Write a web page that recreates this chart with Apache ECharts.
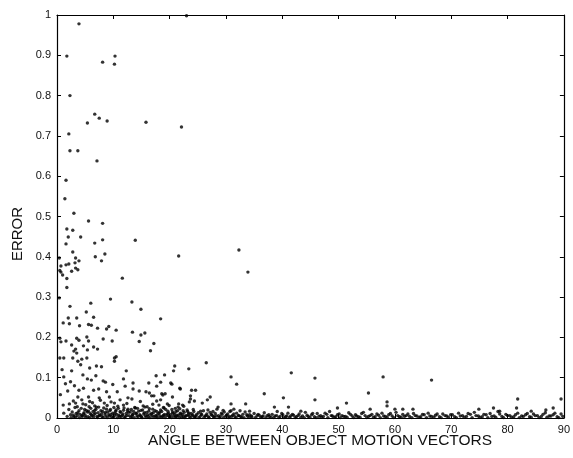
<!DOCTYPE html>
<html>
<head>
<meta charset="utf-8">
<script src="https://cdn.jsdelivr.net/npm/echarts@6/dist/echarts.min.js"></script>
<style>
  html, body { margin: 0; padding: 0; background: #fff; }
  #chart { width: 573px; height: 458px; }
</style>
</head>
<body>
<div id="chart"></div>
<script>
// [angle, error] pairs
const highPoints = [
  [3.9, 0.978], [1.75, 0.898], [8.1, 0.883], [10.3, 0.898], [10.2, 0.878], [23.0, 0.998],
  [2.3, 0.80], [6.7, 0.754], [7.5, 0.744], [5.4, 0.732], [8.9, 0.737], [15.8, 0.734],
  [22.1, 0.722], [2.1, 0.705], [2.3, 0.663], [3.7, 0.663], [7.1, 0.638], [1.6, 0.59],
  [1.4, 0.544], [3.0, 0.508], [5.6, 0.489], [8.1, 0.483], [1.75, 0.469], [2.8, 0.466],
  [2.0, 0.449], [4.2, 0.449], [1.6, 0.432], [6.7, 0.434], [8.1, 0.442], [13.9, 0.441],
  [2.8, 0.412], [6.8, 0.40], [8.5, 0.407], [0.4, 0.397], [3.3, 0.397], [7.9, 0.39],
  [21.6, 0.402], [32.3, 0.417], [33.9, 0.362], [11.6, 0.347]
];

const midPoints = [
  [0.7, 0.377], [1.6, 0.380], [2.1, 0.382], [3.2, 0.385], [3.9, 0.39], [3.3, 0.372],
  [3.7, 0.368], [0.7, 0.362], [1.0, 0.355], [2.6, 0.364], [0.5, 0.366], [1.75, 0.346],
  [1.75, 0.324], [0.4, 0.298], [9.5, 0.295], [13.3, 0.288], [6.0, 0.285], [14.9, 0.27],
  [2.3, 0.277], [5.2, 0.263], [18.4, 0.246], [6.5, 0.25], [2.0, 0.248], [3.5, 0.248],
  [1.1, 0.236], [2.2, 0.234], [4.0, 0.229], [5.6, 0.232], [6.1, 0.23], [7.2, 0.223],
  [8.8, 0.221], [9.2, 0.227], [10.5, 0.218], [13.4, 0.213], [15.6, 0.211], [14.9, 0.206],
  [14.6, 0.19], [17.2, 0.185], [16.6, 0.167], [0.5, 0.198], [0.7, 0.189], [1.6, 0.191],
  [3.5, 0.198], [3.9, 0.193], [5.3, 0.201], [5.6, 0.191], [8.2, 0.196], [9.8, 0.191],
  [2.6, 0.181], [3.3, 0.171], [4.7, 0.179], [5.4, 0.169], [3.0, 0.166], [3.5, 0.161],
  [7.2, 0.171], [6.5, 0.176], [0.5, 0.149], [1.2, 0.149], [2.8, 0.149], [4.4, 0.146],
  [5.3, 0.149], [3.7, 0.141], [4.2, 0.132], [10.2, 0.149], [10.2, 0.141], [10.5, 0.152],
  [20.9, 0.129], [20.7, 0.117], [23.4, 0.122], [26.5, 0.137], [7.0, 0.129], [7.9, 0.127],
  [5.8, 0.124], [2.6, 0.117], [4.6, 0.107], [1.2, 0.102], [17.6, 0.105], [19.1, 0.107],
  [12.3, 0.117], [30.9, 0.102], [41.6, 0.112], [45.8, 0.099], [57.9, 0.102], [66.5, 0.094]
];

const lowPoints = [
  [5.4, 0.097], [6.1, 0.094], [8.2, 0.092], [8.6, 0.089], [11.8, 0.097], [13.5, 0.087],
  [12.1, 0.079], [16.3, 0.087], [20.4, 0.084], [21.9, 0.072], [13.5, 0.072], [14.6, 0.067],
  [15.8, 0.065], [16.8, 0.055], [20.5, 0.052], [18.8, 0.057], [1.9, 0.067], [3.9, 0.069],
  [4.7, 0.074], [6.5, 0.069], [7.4, 0.072], [8.8, 0.065], [10.7, 0.065], [3.7, 0.052],
  [5.6, 0.052], [7.5, 0.05], [9.3, 0.052], [11.2, 0.045], [12.6, 0.05], [13.3, 0.047],
  [1.1, 0.032], [3.3, 0.037], [4.6, 0.035], [6.7, 0.03], [8.4, 0.037], [10.2, 0.037],
  [11.8, 0.032], [15.3, 0.03], [18.1, 0.032], [19.6, 0.035], [21.6, 0.035], [23.5, 0.04],
  [17.7, 0.079], [18.4, 0.089], [20.2, 0.087], [21.8, 0.074], [31.9, 0.084], [36.8, 0.06],
  [55.3, 0.062], [40.2, 0.05], [45.8, 0.045], [23.9, 0.069], [24.6, 0.069], [23.7, 0.055],
  [23.7, 0.047], [27.2, 0.052], [26.7, 0.045], [24.4, 0.042], [25.8, 0.037], [30.9, 0.035],
  [33.5, 0.035], [38.6, 0.027], [41.1, 0.027], [51.4, 0.037], [49.8, 0.025], [43.3, 0.017],
  [34.2, 0.017], [31.4, 0.022], [28.6, 0.027], [55.6, 0.022], [58.6, 0.04], [58.6, 0.03],
  [60.0, 0.022], [61.4, 0.022], [63.2, 0.022], [74.9, 0.022], [77.5, 0.025], [78.6, 0.017],
  [81.8, 0.047], [81.6, 0.025], [86.8, 0.02], [88.1, 0.025], [89.5, 0.047], [84.2, 0.017],
  [17.2, 0.055], [17.7, 0.042], [18.6, 0.06], [19.2, 0.06], [18.4, 0.045], [16.4, 0.062],
  [22.3, 0.032], [21.5, 0.027], [2.2, 0.035], [2.9, 0.042], [3.6, 0.028], [4.4, 0.045],
  [5.1, 0.033], [5.8, 0.041], [6.3, 0.038], [7.0, 0.027], [7.7, 0.044], [8.9, 0.031],
  [9.6, 0.040], [10.8, 0.029], [12.4, 0.036], [13.9, 0.025], [14.8, 0.041], [16.0, 0.028],
  [17.0, 0.034], [18.9, 0.026], [19.9, 0.031], [21.0, 0.024], [22.5, 0.029], [0.6, 0.058],
  [1.5, 0.085], [0.9, 0.12], [2.4, 0.09], [3.1, 0.08], [6.9, 0.105], [9.9, 0.083],
  [4.9, 0.021], [5.6, 0.017], [6.0, 0.024], [6.7, 0.019], [7.4, 0.027], [8.1, 0.016],
  [8.8, 0.022], [9.4, 0.018], [10.1, 0.026], [10.5, 0.020], [11.2, 0.016], [11.9, 0.025],
  [12.5, 0.018], [13.2, 0.021], [13.6, 0.016], [14.3, 0.024], [14.9, 0.019], [15.6, 0.027],
  [16.3, 0.017], [17.0, 0.022], [17.7, 0.016], [18.4, 0.020], [19.0, 0.025], [19.7, 0.017],
  [20.4, 0.021], [21.1, 0.016], [21.8, 0.023], [22.4, 0.018], [23.2, 0.016], [24.2, 0.021],
  [25.5, 0.017], [26.8, 0.020], [27.7, 0.016], [29.5, 0.019], [30.7, 0.016], [32.5, 0.018]
];

const bandPoints = [
  [1.2, 0.012], [1.8, 0.004], [2.1, 0.021], [2.4, 0.008], [2.7, 0.015], [3.0, 0.003],
  [3.2, 0.026], [3.4, 0.011], [3.6, 0.006], [3.9, 0.018], [4.1, 0.009], [4.3, 0.024],
  [4.5, 0.004], [4.8, 0.013], [5.0, 0.007], [5.2, 0.019], [5.5, 0.003], [5.7, 0.028],
  [5.9, 0.011], [6.2, 0.005], [6.4, 0.016], [6.6, 0.009], [6.9, 0.022], [7.1, 0.004],
  [7.3, 0.013], [7.6, 0.007], [7.8, 0.018], [8.0, 0.003], [8.3, 0.025], [8.5, 0.010],
  [8.7, 0.005], [9.0, 0.015], [9.2, 0.008], [9.5, 0.021], [9.7, 0.003], [9.9, 0.012],
  [10.2, 0.006], [10.4, 0.017], [10.6, 0.009], [10.9, 0.024], [11.1, 0.004], [11.3, 0.014],
  [11.6, 0.007], [11.8, 0.019], [12.1, 0.003], [12.3, 0.011], [12.6, 0.022], [12.8, 0.006],
  [13.0, 0.015], [13.3, 0.004], [13.5, 0.009], [13.8, 0.026], [14.0, 0.012], [14.2, 0.005],
  [14.5, 0.017], [14.7, 0.008], [15.0, 0.003], [15.2, 0.020], [15.4, 0.010], [15.7, 0.006],
  [15.9, 0.014], [16.2, 0.004], [16.4, 0.023], [16.6, 0.009], [16.9, 0.005], [17.1, 0.013],
  [17.4, 0.018], [17.6, 0.003], [17.8, 0.008], [18.1, 0.011], [18.3, 0.005], [18.6, 0.016],
  [18.8, 0.004], [19.1, 0.009], [19.3, 0.021], [19.5, 0.006], [19.8, 0.012], [20.0, 0.003],
  [20.2, 0.008], [20.5, 0.015], [20.7, 0.005], [20.9, 0.010], [21.2, 0.004], [21.4, 0.018],
  [21.6, 0.007], [21.9, 0.012], [22.1, 0.003], [22.3, 0.009], [22.6, 0.014], [22.8, 0.005],
  [23.1, 0.020], [23.3, 0.008], [23.5, 0.004], [23.8, 0.011], [24.0, 0.006], [24.3, 0.016],
  [24.5, 0.003], [24.8, 0.009], [25.1, 0.013], [25.4, 0.004], [25.7, 0.008], [26.0, 0.018],
  [26.3, 0.005], [26.6, 0.010], [26.9, 0.003], [27.2, 0.014], [27.5, 0.007], [27.8, 0.004],
  [28.1, 0.011], [28.4, 0.022], [28.7, 0.006], [29.0, 0.003], [29.3, 0.009], [29.7, 0.015],
  [30.0, 0.005], [30.3, 0.010], [30.6, 0.004], [30.9, 0.018], [31.2, 0.007], [31.6, 0.003],
  [31.9, 0.012], [32.2, 0.006], [32.6, 0.004], [33.0, 0.009], [33.4, 0.015], [33.8, 0.005],
  [34.2, 0.008], [34.6, 0.003], [35.0, 0.011], [35.5, 0.005], [35.9, 0.007], [36.4, 0.003],
  [36.8, 0.013], [37.3, 0.006], [37.7, 0.004], [38.2, 0.009], [38.7, 0.005], [39.1, 0.016],
  [39.6, 0.004], [40.1, 0.008], [40.6, 0.003], [41.0, 0.012], [41.5, 0.005], [42.0, 0.007],
  [42.5, 0.003], [43.0, 0.010], [43.6, 0.005], [44.1, 0.014], [44.6, 0.004], [45.2, 0.008],
  [45.7, 0.003], [46.2, 0.011], [46.8, 0.006], [47.3, 0.004], [47.9, 0.009], [48.4, 0.016],
  [48.9, 0.005], [49.5, 0.003], [50.1, 0.010], [50.6, 0.006], [51.2, 0.004], [51.8, 0.013],
  [52.4, 0.005], [53.0, 0.008], [53.5, 0.003], [54.1, 0.011], [54.7, 0.006], [55.3, 0.004],
  [55.9, 0.009], [56.5, 0.003], [57.1, 0.007], [57.7, 0.012], [58.3, 0.004], [58.9, 0.008],
  [59.5, 0.005], [60.2, 0.014], [60.8, 0.003], [61.4, 0.009], [62.0, 0.006], [62.6, 0.004],
  [63.3, 0.011], [63.9, 0.005], [64.6, 0.003], [65.2, 0.008], [65.9, 0.012], [66.5, 0.004],
  [67.2, 0.007], [67.9, 0.003], [68.5, 0.010], [69.2, 0.005], [69.9, 0.008], [70.6, 0.003],
  [71.3, 0.012], [72.0, 0.006], [72.7, 0.004], [73.4, 0.009], [74.1, 0.014], [74.8, 0.005],
  [75.5, 0.003], [76.2, 0.008], [76.9, 0.011], [77.6, 0.005], [78.3, 0.016], [79.0, 0.004],
  [79.7, 0.009], [80.4, 0.006], [81.1, 0.003], [81.8, 0.012], [82.5, 0.005], [83.2, 0.008],
  [83.9, 0.003], [84.6, 0.010], [85.3, 0.006], [86.0, 0.004], [86.7, 0.013], [87.4, 0.005],
  [88.1, 0.008], [88.8, 0.003], [89.5, 0.010]
];

// the near-zero floor of the cloud, almost a solid strip
const floorPoints = [
  [2.5, 0.001], [2.9, 0.007], [3.3, 0.002], [3.7, 0.013], [4.0, 0.001], [4.4, 0.006],
  [4.7, 0.010], [5.1, 0.002], [5.4, 0.015], [5.8, 0.001], [6.1, 0.008], [6.5, 0.003],
  [6.8, 0.012], [7.2, 0.001], [7.5, 0.006], [7.9, 0.010], [8.2, 0.002], [8.6, 0.014],
  [8.9, 0.001], [9.3, 0.005], [9.6, 0.009], [10.0, 0.002], [10.3, 0.012], [10.7, 0.001],
  [11.0, 0.007], [11.4, 0.003], [11.7, 0.010], [12.0, 0.001], [12.4, 0.006], [12.7, 0.014],
  [13.1, 0.002], [13.4, 0.008], [13.7, 0.001], [14.1, 0.011], [14.4, 0.003], [14.8, 0.006],
  [15.1, 0.001], [15.5, 0.013], [15.8, 0.002], [16.1, 0.008], [16.5, 0.001], [16.8, 0.011],
  [17.2, 0.003], [17.5, 0.006], [17.9, 0.001], [18.2, 0.014], [18.5, 0.002], [18.9, 0.007],
  [19.2, 0.001], [19.6, 0.010], [19.9, 0.004], [20.3, 0.001], [20.6, 0.012], [21.0, 0.002],
  [21.3, 0.007], [21.7, 0.001], [22.0, 0.010], [22.4, 0.003], [22.7, 0.001], [23.0, 0.006],
  [23.4, 0.012], [23.7, 0.001], [24.1, 0.008], [24.4, 0.002], [24.7, 0.005], [25.2, 0.001],
  [25.6, 0.010], [26.1, 0.002], [26.5, 0.006], [27.0, 0.001], [27.4, 0.009], [27.9, 0.002],
  [28.3, 0.005], [28.8, 0.001], [29.2, 0.012], [29.6, 0.002], [30.1, 0.007], [30.5, 0.001],
  [31.0, 0.004], [31.4, 0.010], [31.8, 0.001], [32.3, 0.006], [32.8, 0.002], [33.2, 0.001],
  [33.7, 0.008], [34.1, 0.002], [34.5, 0.005], [35.2, 0.001], [35.7, 0.009], [36.2, 0.002],
  [36.6, 0.005], [37.1, 0.001], [37.6, 0.008], [38.0, 0.002], [38.5, 0.001], [39.0, 0.006],
  [39.4, 0.001], [39.9, 0.011], [40.3, 0.001], [40.8, 0.005], [41.3, 0.002], [41.8, 0.009],
  [42.3, 0.001], [42.8, 0.006], [43.3, 0.002], [43.9, 0.001], [44.4, 0.007], [44.9, 0.002],
  [45.4, 0.011], [46.0, 0.001], [46.5, 0.004], [47.0, 0.002], [47.6, 0.012], [48.1, 0.001],
  [48.7, 0.006], [49.2, 0.002], [49.8, 0.008], [50.3, 0.001], [50.9, 0.004], [51.5, 0.002],
  [52.1, 0.009], [52.7, 0.001], [53.2, 0.005], [53.8, 0.002], [54.4, 0.014], [55.0, 0.001],
  [55.6, 0.006], [56.2, 0.002], [56.8, 0.010], [57.4, 0.001], [58.0, 0.005], [58.6, 0.002],
  [59.2, 0.011], [59.8, 0.001], [60.5, 0.006], [61.1, 0.002], [61.7, 0.004], [62.3, 0.010],
  [63.0, 0.001], [63.6, 0.006], [64.3, 0.002], [64.9, 0.009], [65.6, 0.001], [66.2, 0.005],
  [66.9, 0.002], [67.5, 0.010], [68.2, 0.001], [68.9, 0.006], [69.5, 0.002], [70.2, 0.008],
  [70.9, 0.001], [71.6, 0.005], [72.3, 0.002], [73.0, 0.011], [73.7, 0.001], [74.4, 0.006],
  [75.1, 0.002], [75.8, 0.009], [76.5, 0.001], [77.2, 0.004], [77.9, 0.002], [78.6, 0.010],
  [79.3, 0.001], [80.0, 0.006], [80.7, 0.002], [81.4, 0.008], [82.1, 0.001], [82.8, 0.004],
  [83.5, 0.011], [84.2, 0.002], [84.9, 0.006], [85.6, 0.001], [86.3, 0.009], [87.0, 0.002],
  [87.7, 0.005], [88.4, 0.012], [89.1, 0.001], [89.8, 0.004]
];

const xTicks = [0, 10, 20, 30, 40, 50, 60, 70, 80, 90];
const yTicks = [0, 0.1, 0.2, 0.3, 0.4, 0.5, 0.6, 0.7, 0.8, 0.9, 1];

const chart = echarts.init(document.getElementById('chart'));
const font = 'Liberation Sans, Arial, Helvetica, sans-serif';

const baseX = {
  type: 'value',
  min: xTicks[0],
  max: xTicks[xTicks.length - 1],
  interval: 10,
  splitLine: { show: false },
  axisLine: { show: true, onZero: false, lineStyle: { color: '#000', width: 1.2 } },
  axisTick: { show: true, inside: true, length: 4, lineStyle: { color: '#000' } }
};
const baseY = {
  type: 'value',
  min: yTicks[0],
  max: yTicks[yTicks.length - 1],
  interval: 0.1,
  splitLine: { show: false },
  axisLine: { show: true, onZero: false, lineStyle: { color: '#000', width: 1.2 } },
  axisTick: { show: true, inside: true, length: 4, lineStyle: { color: '#000' } }
};

const dot = { symbol: 'circle', symbolSize: 3.4, itemStyle: { color: '#000' } };

chart.setOption({
  animation: false,
  backgroundColor: '#fff',
  grid: { left: 57, right: 3, top: 15, bottom: 40 },
  xAxis: [
    Object.assign({}, baseX, {
      position: 'bottom',
      axisLabel: { color: '#111', fontSize: 11, fontFamily: font, margin: 6 }
    }),
    Object.assign({}, baseX, { position: 'top', axisLabel: { show: false } })
  ],
  yAxis: [
    Object.assign({}, baseY, {
      position: 'left',
      axisLabel: { color: '#111', fontSize: 11, fontFamily: font, margin: 6 }
    }),
    Object.assign({}, baseY, { position: 'right', axisLabel: { show: false } })
  ],
  graphic: [
    {
      type: 'text', x: 320, y: 441,
      style: {
        text: 'ANGLE BETWEEN OBJECT MOTION VECTORS', font: '15.5px ' + font, fill: '#111',
        align: 'center', verticalAlign: 'middle'
      }
    },
    {
      type: 'text', x: 18, y: 234, rotation: Math.PI / 2,
      style: { text: 'ERROR', font: '15px ' + font, fill: '#111', align: 'center', verticalAlign: 'middle' }
    }
  ],
  series: [
    Object.assign({ type: 'scatter', data: highPoints }, dot),
    Object.assign({ type: 'scatter', data: midPoints }, dot),
    Object.assign({ type: 'scatter', data: lowPoints }, dot),
    Object.assign({ type: 'scatter', data: bandPoints }, dot),
    Object.assign({ type: 'scatter', data: floorPoints }, dot)
  ]
});
</script>
</body>
</html>
